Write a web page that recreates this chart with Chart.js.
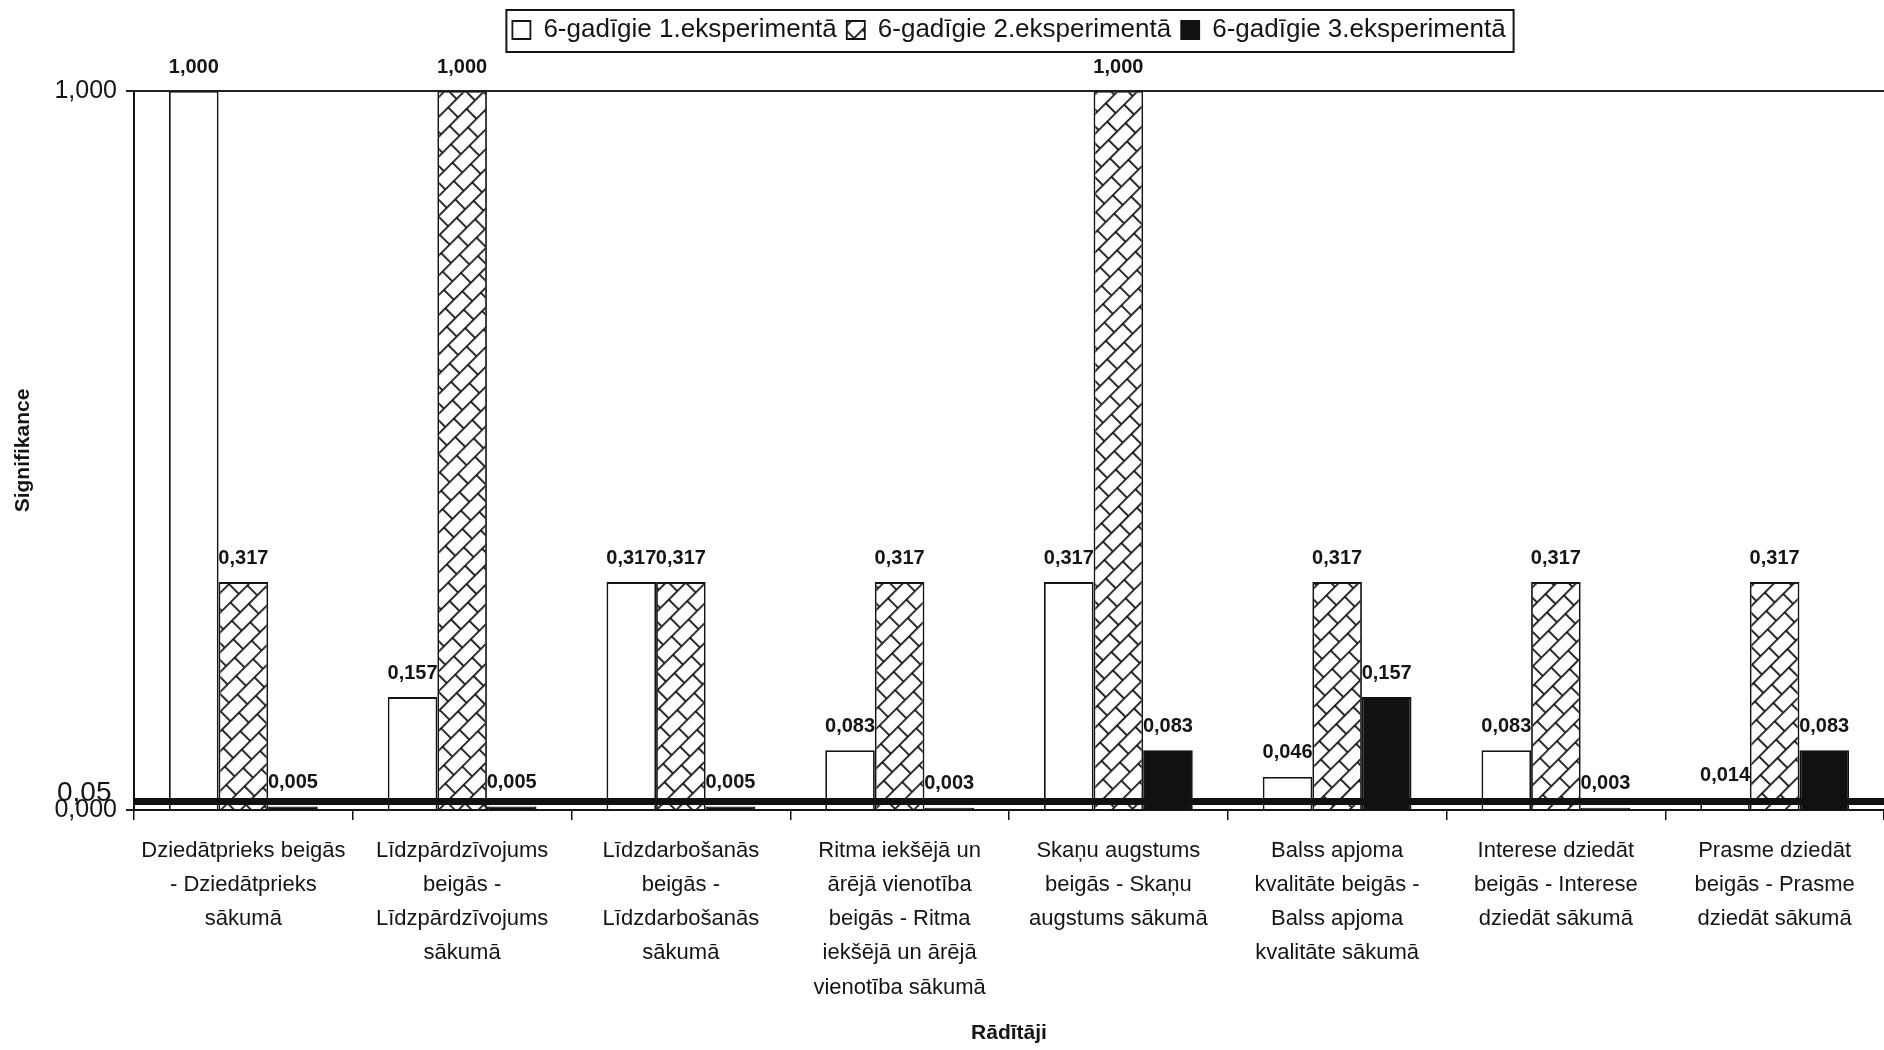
<!DOCTYPE html>
<html lang="lv">
<head>
<meta charset="utf-8">
<title>Signifikance</title>
<script src="https://cdn.jsdelivr.net/npm/chart.js@4.4.1/dist/chart.umd.min.js"></script>
<style>
  html, body { margin: 0; padding: 0; background: #fff; }
</style>
</head>
<body>
<canvas id="sigChart" width="1884" height="1050"></canvas>
<script>
const categories = [
  ["Dziedātprieks beigās", "- Dziedātprieks", "sākumā"],
  ["Līdzpārdzīvojums", "beigās -", "Līdzpārdzīvojums", "sākumā"],
  ["Līdzdarbošanās", "beigās -", "Līdzdarbošanās", "sākumā"],
  ["Ritma iekšējā un", "ārējā vienotība", "beigās - Ritma", "iekšējā un ārējā", "vienotība sākumā"],
  ["Skaņu augstums", "beigās - Skaņu", "augstums sākumā"],
  ["Balss apjoma", "kvalitāte beigās -", "Balss apjoma", "kvalitāte sākumā"],
  ["Interese dziedāt", "beigās - Interese", "dziedāt sākumā"],
  ["Prasme dziedāt", "beigās - Prasme", "dziedāt sākumā"],
];

const seriesNames = [
  "6-gadīgie 1.eksperimentā",
  "6-gadīgie 2.eksperimentā",
  "6-gadīgie 3.eksperimentā",
];

const exp1 = [1.000, 0.157, 0.317, 0.083, 0.317, 0.046, 0.083, 0.014];
const exp2 = [0.317, 1.000, 0.317, 0.317, 1.000, 0.317, 0.317, 0.317];
const exp3 = [0.005, 0.005, 0.005, 0.003, 0.083, 0.157, 0.003, 0.083];

const yTicks = [0, 1];
const threshold = 0.05;

const ink = "#151515";
const fmt = (v, d = 3) => v.toFixed(d).replace(".", ",");

// diagonal brick hatch for the 2nd experiment
function brickPattern() {
  const w = 24, h = 28;
  const c = document.createElement("canvas");
  c.width = w;
  c.height = h;
  const g = c.getContext("2d");
  g.fillStyle = "#fff";
  g.fillRect(0, 0, w, h);
  g.strokeStyle = ink;
  g.lineWidth = 1.8;
  g.beginPath();
  g.moveTo(0, 0.9); g.lineTo(w, 0.9);
  g.moveTo(0, h / 2 + 0.9); g.lineTo(w, h / 2 + 0.9);
  g.moveTo(0.9, 0); g.lineTo(0.9, h / 2 + 0.9);
  g.moveTo(w / 2 + 0.9, h / 2 + 0.9); g.lineTo(w / 2 + 0.9, h);
  g.stroke();
  const p = g.createPattern(c, "repeat");
  p.setTransform(new DOMMatrix().rotateSelf(-45));
  return p;
}

const valueLabels = {
  id: "valueLabels",
  afterDatasetsDraw(chart) {
    const ctx = chart.ctx;
    ctx.save();
    ctx.font = "bold 20px 'Liberation Sans', Arial, sans-serif";
    ctx.fillStyle = ink;
    ctx.textAlign = "center";
    ctx.textBaseline = "middle";
    chart.data.datasets.forEach((ds, i) => {
      chart.getDatasetMeta(i).data.forEach((bar, j) => {
        ctx.fillText(fmt(ds.data[j]), bar.x, bar.y - 24);
      });
    });
    ctx.restore();
  },
};

const legendFrame = {
  id: "legendFrame",
  afterInit(chart) {
    const lg = chart.legend;
    const fit = lg.fit;
    lg.fit = function () {
      fit.call(this);
      this.height += 38;
    };
  },
  afterDraw(chart) {
    const boxes = chart.legend.legendHitBoxes;
    if (!boxes || !boxes.length) return;
    const l = Math.min(...boxes.map((b) => b.left)) - 6;
    const r = Math.max(...boxes.map((b) => b.left + b.width)) + 8;
    const t = Math.min(...boxes.map((b) => b.top)) - 7;
    const h = boxes[0].height + 16;
    const ctx = chart.ctx;
    ctx.save();
    ctx.strokeStyle = ink;
    ctx.lineWidth = 2;
    ctx.strokeRect(l, t, r - l, h);
    ctx.restore();
  },
};

window.addEventListener("DOMContentLoaded", () => {
  const ctx = document.getElementById("sigChart").getContext("2d");

  new Chart(ctx, {
    type: "bar",
    data: {
      labels: categories,
      datasets: [
        {
          label: seriesNames[0],
          data: exp1,
          backgroundColor: "#fff",
          borderColor: ink,
          borderWidth: 1.8,
        },
        {
          label: seriesNames[1],
          data: exp2,
          backgroundColor: brickPattern(),
          borderColor: ink,
          borderWidth: 1.8,
        },
        {
          label: seriesNames[2],
          data: exp3,
          backgroundColor: "#111",
          borderColor: "#111",
          borderWidth: 1.8,
        },
      ],
    },
    options: {
      responsive: false,
      animation: false,
      layout: { padding: { top: 7, right: 0, bottom: 0, left: 0 } },
      datasets: {
        bar: { categoryPercentage: 0.68, barPercentage: 1.0 },
      },
      plugins: {
        tooltip: { enabled: false },
        legend: {
          position: "top",
          align: "center",
          fullSize: false,
          labels: {
            color: ink,
            font: { family: "'Liberation Sans', Arial, sans-serif", size: 26 },
            boxWidth: 18,
            boxHeight: 18,
            padding: 10,
          },
        },
      },
      scales: {
        x: {
          type: "category",
          offset: true,
          grid: {
            offset: true,
            drawOnChartArea: false,
            color: ink,
            lineWidth: 1.5,
            tickLength: 10,
          },
          border: { color: ink, width: 2 },
          ticks: {
            color: ink,
            font: { family: "'Liberation Sans', Arial, sans-serif", size: 22, lineHeight: 1.55 },
            maxRotation: 0,
            minRotation: 0,
            autoSkip: false,
            padding: 14,
          },
          title: {
            display: true,
            text: "Rādītāji",
            color: ink,
            font: { family: "'Liberation Sans', Arial, sans-serif", size: 21, weight: "bold" },
            padding: { top: 0, bottom: 4 },
          },
          afterFit: (scale) => { scale.height = 240; },
        },
        y: {
          position: "left",
          weight: 1,
          min: yTicks[0],
          max: yTicks[yTicks.length - 1],
          afterBuildTicks: (scale) => { scale.ticks = yTicks.map((v) => ({ value: v })); },
          grid: {
            color: "#222",
            lineWidth: 2,
            tickLength: 8,
          },
          border: { color: ink, width: 2 },
          ticks: {
            color: ink,
            font: { family: "'Liberation Sans', Arial, sans-serif", size: 25 },
            padding: 9,
            callback: (v) => fmt(v),
          },
          title: {
            display: true,
            text: "Signifikance",
            color: ink,
            font: { family: "'Liberation Sans', Arial, sans-serif", size: 21, weight: "bold" },
            padding: { top: 11, bottom: 0 },
          },
          afterFit: (scale) => { scale.width = 134; },
        },
        // separate scale for the 0,05 significance level line (outermost, zero width)
        yRef: {
          position: "left",
          weight: 2,
          min: 0,
          max: 4,
          afterBuildTicks: (scale) => { scale.ticks = [{ value: threshold }]; },
          grid: {
            display: true,
            drawOnChartArea: true,
            drawTicks: false,
            color: "#111",
            lineWidth: 7,
            z: 1,
          },
          border: { display: false },
          ticks: {
            color: ink,
            font: { family: "'Liberation Sans', Arial, sans-serif", size: 28 },
            mirror: true,
            autoSkip: false,
            padding: 57,
            labelOffset: -8,
            callback: (v) => fmt(v, 2),
          },
          afterFit: (scale) => { scale.width = 0; },
        },
      },
    },
    plugins: [valueLabels, legendFrame],
  });
});
</script>
</body>
</html>
